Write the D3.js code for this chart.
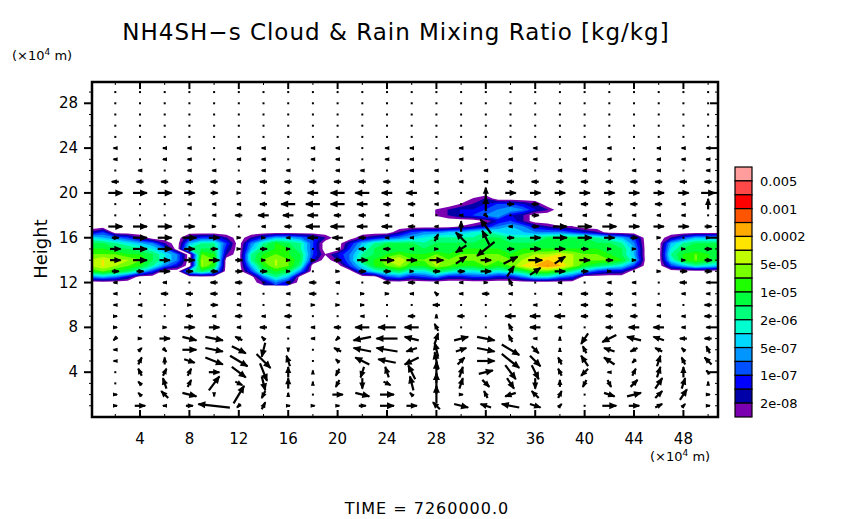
<!DOCTYPE html>
<html><head><meta charset="utf-8">
<script src="https://cdn.jsdelivr.net/npm/d3@7"></script>
<style>
body{margin:0;background:#fff}
text{font-family:"DejaVu Sans",sans-serif;fill:#000}
</style></head>
<body><svg id="chart" width="854" height="519"></svg>
<script>
// colour levels, low to high (lower bound of each box)
const levels = [1e-8, 2e-8, 5e-8, 1e-7, 2e-7, 5e-7, 1e-6, 2e-6, 5e-6, 1e-5, 2e-5, 5e-5, 1e-4, 2e-4, 5e-4, 1e-3, 2e-3, 5e-3];
const colors = ["#7a00b0","#0000a8","#0000ff","#0050ff","#0096ff","#00d8ff","#00ffd0","#00ff7a","#00ff3c","#1eff00","#78ff00","#c0ff00","#ffe400","#ffaa00","#ff5500","#ff0000","#ff4848","#ff9c9c"];
const barLabels = ["0.005","0.001","0.0002","5e-05","1e-05","2e-06","5e-07","1e-07","2e-08"];
const xTicks = [4, 8, 12, 16, 20, 24, 28, 32, 36, 40, 44, 48];
const yTicks = [4, 8, 12, 16, 20, 24, 28];

// cloud field: level index per x = 0..51 (x10^4 m); '.' = below 1e-8
const cloudY = [20, 19.5, 19, 18.5, 18, 17.5, 17, 16.5, 16, 15.5, 15, 14.5, 14, 13.5, 13, 12.5, 12];
const cloudRows = [
  "",
  ".............................." + ".01",
  ".............................." + "0123321",
  "..........................." + ".0122345421",
  "............................" + "01234521",
  ".............................." + "..0231",
  ".........." + ".........." + ".........." + "0124542100",
  "13........" + ".........." + ".....13445" + "5676554443" + "21",
  "65431...23" + "31.1355431" + "..12345677" + "7788777888" + "87653..135" + "55",
  "8876541.57" + "73.479873." + ".257888788" + "8888888888" + "88874..578" + "88",
  "9988764.78" + "82.589973." + ".368888888" + "9999899999" + "99885..688" + "88",
  "aaa99864.a" + "91.79a9830" + "24789a99a9" + "aaaa9abbcb" + "aa985..79a" + "98",
  "bcbba864.b" + "a..7aba82." + "1489bcaaca" + "aabaabcdcb" + "aaa96..69a" + "98",
  "bcba9742.b" + "9..59ba7.." + ".369ab99ba" + "99a9acdedb" + "98763..357" + "65",
  "9a9863..68" + "6..38984.." + "..46786687" + "667678aa97" + "5322......" + "..",
  "4542......" + "....475..." + "....342342" + "2332246643",
  ".........." + "....142..."
];

// wind vectors at x = 2,4,...,50 and heights 29..1; digits 0-9 positive, a-i = -1..-9
const vecX = d3.range(2, 51, 2);
const vecY = d3.range(29, 0, -1);
const uRows = [
  "0000000000000000000000000","0000000000000000000000000","0000000000000000000000000",
  "0000000000000000000000000","0000000000000000000000000",
  "a0aa0aa0aa0aa0a0aa0aa0aaa","a0aa0aa0aa0aa0a0aa0aa0aaa","0a0aa0aa0aa0aa0aa0aa0aa0a",
  "bbbbbabbbbbbaaaabbbbbbbbb",
  "444321abcddcca00333333334",
  "000aaabdddcbba0022abbbba0",
  "0000abcccbbaa0a102aaaaaa0",
  "444310abddccba0ca24443332",
  "2444311accbaa1cb234432101",
  "344321210abba1ce233211012",
  "3433321112343433443321012",
  "2232222101221223233210122",
  "a0a0bb0aba0bbaa1a0a0aa0ba",
  "a0bbba0ab011aaaba0abba0aa",
  "aa012a0a11100b000a0bbaa0b",
  "1a0babab00a0b0b0cccbbbaab",
  "10133abaabdeda00aca0bccaa",
  "a1345ba0aaefd145aa0bddcbb",
  "a11454a00befca35520acbbaa",
  "a103554a0adeda2553abca1ab",
  "0a1134200aaab01432aba110a",
  "0aa132100a02a012200a12210",
  "1ab403a00344a01acb1034221",
  "13a2ia1111243b4ce31043211"
];
const vRows = [
  "0000000000000000000000000","0000000000000000000000000","0000000000000000000000000",
  "0000000000000000000000000","0000000000000000000000000","0000000000000000000000000",
  "0000000000000000000000000","0000000000000000000000000","0000000000000000000000000",
  "0000000000000003000000000",
  "0000000000000004000000003",
  "000000000000000a000000000",
  "0000000000000034000000000",
  "0000000000000234000000000",
  "00000000000000bd000000000",
  "0000000000000020202000000",
  "0000000000000000320000000",
  "0000000000000000200000000",
  "0000000000000100000000000",
  "0000000000000000000000000",
  "0000000000000100000000000",
  "0000000000000200200000000",
  "a00aa1100aa0131a201cb1100",
  "01a0abda0111a41acb121a112",
  "022abcd30121b520dc232a322",
  "02220ce31bc34631dd2b02331",
  "01324ad31bca463bcc2bb2331",
  "012aa5b100a01502a220a1230",
  "00001a20000002a11a1000110"
];

const svg = d3.select("#chart");
const pL = 92, pR = 718, pT = 82, pB = 417;
const x = d3.scaleLinear().domain([0, 50.8]).range([pL - 1.4, pR]);
const y = d3.scaleLinear().domain([0, 29.9]).range([pB, pT]);

// ---- filled contours
const nx = 52, ny = cloudY.length;
const codes = "0123456789abcdefgh";
const grid = [];
cloudRows.forEach(r => {
  const s = r.padEnd(nx, ".");
  for (let i = 0; i < nx; i++) {
    const k = codes.indexOf(s[i]);
    grid.push(k < 0 ? 0 : k + 1);
  }
});
svg.append("defs").append("clipPath").attr("id", "plot")
  .append("rect").attr("x", pL).attr("y", pT).attr("width", pR - pL).attr("height", pB - pT);
const yStep = cloudY[0] - cloudY[1];
const proj = d3.geoTransform({
  point(px, py) {
    this.stream.point(x(px - 0.5), y(cloudY[0] - (py - 0.5) * yStep));
  }
});
const path = d3.geoPath(proj);
const contours = d3.contours().size([nx, ny]).smooth(true)
  .thresholds(d3.range(0, levels.length).map(k => k + 0.9))(grid);
svg.append("g").attr("clip-path", "url(#plot)")
  .selectAll("path").data(contours).join("path")
  .attr("d", path)
  .attr("fill", (d, i) => colors[i]);

// ---- vectors
const val = c => { const n = "0123456789".indexOf(c); return n >= 0 ? n : -("abcdefghi".indexOf(c) + 1); };
const vecs = [];
vecY.forEach((yy, r) => {
  const us = uRows[r].padEnd(25, "0"), vs = vRows[r].padEnd(25, "0");
  vecX.forEach((xx, c) => vecs.push({ x: xx, y: yy, u: val(us[c]), v: val(vs[c]) }));
});
const kv = 3.5;
const vg = svg.append("g").attr("stroke", "#000").attr("fill", "#000");
vecs.forEach(d => {
  const cx = x(d.x), cy = y(d.y);
  const dx = d.u * kv, dy = -d.v * kv;
  const len = Math.hypot(dx, dy);
  if (len < 1) {
    vg.append("rect").attr("x", cx - 1).attr("y", cy - 1).attr("width", 2).attr("height", 2).attr("stroke", "none");
    return;
  }
  const x1 = cx - dx / 2, y1 = cy - dy / 2, x2 = cx + dx / 2, y2 = cy + dy / 2;
  vg.append("line").attr("x1", x1).attr("y1", y1).attr("x2", x2).attr("y2", y2).attr("stroke-width", 2.2);
  const ux = dx / len, uy = dy / len, h = Math.min(7, 3 + len * 0.3), w = h * 0.5;
  vg.append("path").attr("stroke", "none")
    .attr("d", `M${x2 + ux},${y2 + uy}L${x2 - ux * h - uy * w},${y2 - uy * h + ux * w}L${x2 - ux * h + uy * w},${y2 - uy * h - ux * w}Z`);
});

// ---- frame and ticks
const ax = svg.append("g").attr("stroke", "#000");
ax.append("rect").attr("x", pL).attr("y", pT).attr("width", pR - pL).attr("height", pB - pT)
  .attr("fill", "none").attr("stroke-width", 2.5);
d3.range(2, 51, 2).forEach(t => {
  const major = t % 4 === 0, L = major ? 7 : 3;
  ax.append("line").attr("x1", x(t)).attr("x2", x(t)).attr("y1", pB).attr("y2", pB - L).attr("stroke-width", major ? 2 : 1);
  ax.append("line").attr("x1", x(t)).attr("x2", x(t)).attr("y1", pT).attr("y2", pT + L).attr("stroke-width", major ? 2 : 1);
});
d3.range(1, 30).forEach(t => {
  const major = t % 4 === 0;
  ax.append("line").attr("y1", y(t)).attr("y2", y(t)).attr("x1", pL).attr("x2", pL - (major ? 8 : 3)).attr("stroke-width", major ? 2 : 1);
  ax.append("line").attr("y1", y(t)).attr("y2", y(t)).attr("x1", pR).attr("x2", pR - (major ? 8 : 3)).attr("stroke-width", major ? 2 : 1);
});
svg.append("g").selectAll("text").data(xTicks).join("text")
  .attr("x", d => x(d)).attr("y", 444).attr("text-anchor", "middle").attr("font-size", 15).text(d => d);
svg.append("g").selectAll("text").data(yTicks).join("text")
  .attr("x", 78).attr("y", d => y(d) + 5).attr("text-anchor", "end").attr("font-size", 15).text(d => d);

// ---- titles
svg.append("text").attr("x", 396).attr("y", 40).attr("text-anchor", "middle").attr("font-size", 23)
  .attr("letter-spacing", 1).text("NH4SH\u2212s Cloud & Rain Mixing Ratio [kg/kg]");
svg.append("text").attr("x", 12).attr("y", 60).attr("font-size", 13).html("(\u00d710<tspan dy='-5' font-size='9'>4</tspan><tspan dy='5'> m)</tspan>");
svg.append("text").attr("x", 650).attr("y", 461).attr("font-size", 13).html("(\u00d710<tspan dy='-5' font-size='9'>4</tspan><tspan dy='5'> m)</tspan>");
svg.append("text").attr("transform", "translate(47,249) rotate(-90)").attr("text-anchor", "middle").attr("font-size", 18).text("Height");
svg.append("text").attr("x", 427).attr("y", 514).attr("text-anchor", "middle").attr("font-size", 16).attr("letter-spacing", 1).text("TIME = 7260000.0");

// ---- colour bar
const cbTop = 167, cbBot = 417, cbH = (cbBot - cbTop) / colors.length;
const cb = svg.append("g");
colors.slice().reverse().forEach((c, i) => {
  cb.append("rect").attr("x", 735).attr("y", cbTop + i * cbH).attr("width", 17).attr("height", cbH)
    .attr("fill", c).attr("stroke", "#000").attr("stroke-width", 1.2);
});
barLabels.forEach((t, i) => {
  cb.append("text").attr("x", 760).attr("y", cbTop + (2 * i + 1) * cbH + 5).attr("font-size", 13).text(t);
});
</script></body></html>
